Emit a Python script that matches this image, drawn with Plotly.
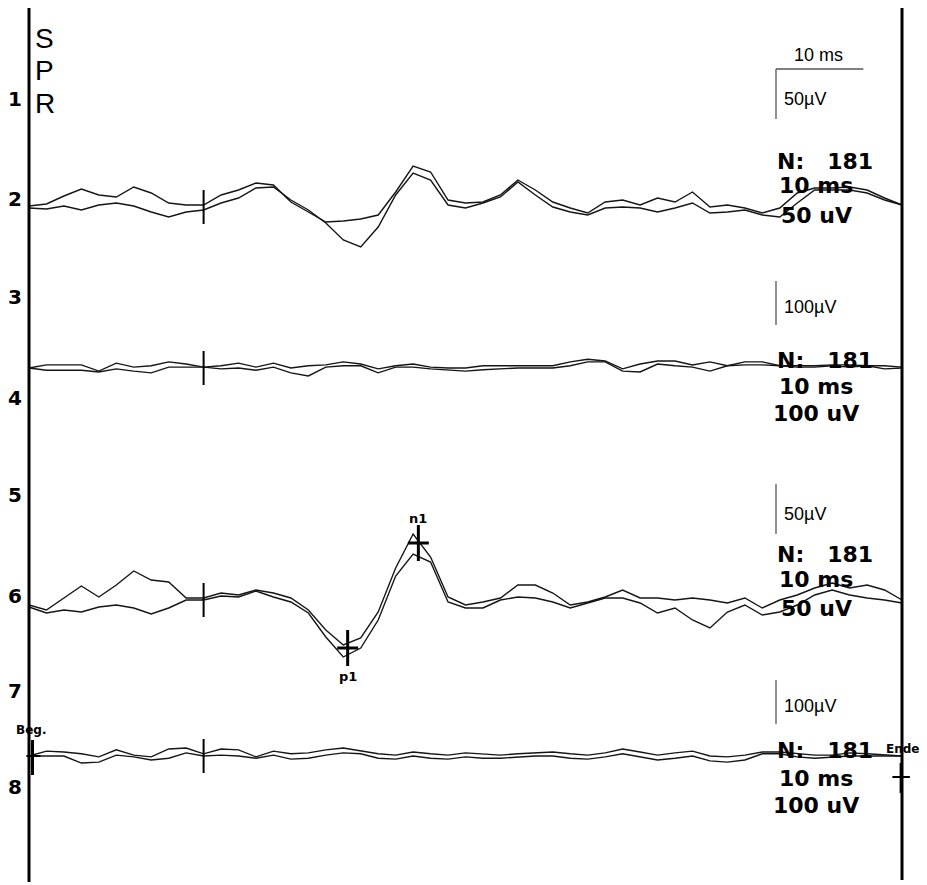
import plotly.graph_objects as go

# ---------------- data ----------------
time_ms = list(range(-20, 81, 2))  # -20 ... 80 ms, 51 samples

# channel 2 (50 uV scale), two superimposed averages, uV (up = positive deflection on screen)
ch2_a = [1, 3, 11, 18, 12, 10, 20, 14, 4, 2,
         2, 12, 17, 24, 22, 5, -5, -15, -14, -12,
         -8, 15, 41, 35, 7, 4, 5, 12, 27, 17,
         5, -1, -6, 5, 7, 2, 9, 5, 15, 0,
         2, -1, -6, -1, 14, 19, 19, 20, 17, 9,
         2]
ch2_b = [-1, -2, 1, -3, 2, 4, 1, -5, -10, -5,
         -3, 4, 9, 19, 20, 7, -3, -16, -33, -40,
         -20, 12, 34, 27, 2, -1, 4, 10, 25, 12,
         0, -5, -8, -1, 0, -1, -5, -1, 4, -6,
         -5, -3, -8, -10, 4, 17, 17, 17, 14, 7,
         2]
# channel 4 (100 uV scale)
ch4_a = [0, 7, 7, 7, -7, 11, 2, 5, 14, 9,
         2, 5, 11, 2, 11, 0, 5, 7, 14, 9,
         -2, 5, 9, 2, 0, 0, 5, 5, 5, 5,
         5, 14, 20, 16, -2, 9, 16, 16, 7, 14,
         5, 14, 14, 5, 5, 5, 7, 7, 5, 5,
         2]
ch4_b = [0, -5, -5, -5, -9, -2, -7, -11, 2, 2,
         2, -2, 0, -5, 2, -11, -18, 2, 5, 5,
         -11, 2, 2, -2, -5, -7, -4, -2, 0, 0,
         0, 5, 14, 14, -7, -9, 9, 5, 2, -7,
         5, 7, 7, 5, 2, 2, 5, 2, 5, -2,
         0]
# channel 6 (50 uV scale)
ch6_a = [-5, -10, 2, 14, 3, 15, 29, 20, 18, 2,
         2, 7, 5, 10, 7, 2, -10, -30, -45, -38,
         -12, 32, 66, 43, 3, -5, -2, 2, 15, 15,
         7, -5, -2, 3, 10, 2, 2, 0, 2, 0,
         -3, 2, -8, 0, 5, 12, 17, 12, 15, 10,
         0]
ch6_b = [-7, -13, -10, -12, -7, -5, -8, -14, -8, 0,
         0, 4, 3, 9, 3, -2, -13, -37, -57, -48,
         -20, 24, 46, 38, -2, -8, -8, 0, 3, 2,
         -2, -8, -3, 2, 2, -3, -13, -8, -20, -28,
         -12, -5, -15, -12, -5, 5, 10, 5, 2, 0,
         -3]
# channel 8 (100 uV scale)
ch8_a = [0, 11, 9, 5, -2, 14, 2, -2, 16, 18,
         5, 16, 14, -2, 11, 5, 7, 14, 18, 11,
         5, 2, 9, 5, 2, 7, 5, 2, 5, 7,
         9, 5, 2, 7, 16, 9, 2, 7, 11, 0,
         -2, 2, 9, 9, 5, 2, 2, 7, 5, 2,
         0]
ch8_b = [0, 0, 0, -16, -14, 2, -2, -9, -5, 7,
         0, 2, 0, -5, 2, -7, -5, 2, 7, 5,
         -5, -7, 0, -5, -7, -2, -5, -5, -2, 0,
         0, -5, -7, -2, 5, -2, -9, -5, 0, -11,
         -14, -9, 5, 5, -2, -5, -2, 0, 0, 0,
         0]

channel_labels = ["1", "2", "3", "4", "5", "6", "7", "8"]
scale_uv = [50, 100, 50, 100]
n_sweeps = 181
time_scale_ms = 10
peak_names = ["p1", "n1"]
peak_latency_ms = [16.5, 24.6]
peak_amp_uv = [-48, 57]
beg_end_ms = [-19.6, 79.9]
beg_end_labels = ["Beg.", "Ende"]

# ---------------- layout ----------------
W, H = 927, 885
PX_PER_MS = 8.73
X0_PX = 29


def px_to_ms(px):
    return -20 + (px - X0_PX) / PX_PER_MS


baselines = [207, 368, 600, 756]       # screen rows of the four displayed traces
gains = [1.0, 0.44, 1.0, 0.44]         # px per uV
bar_tops = [69, 281, 484, 680]
ch_label_y = [99, 199, 297, 398, 495, 596, 691, 787]
text_rows = [(161, 185, 215), (360, 386, 413), (554, 579, 608), (750, 778, 805)]

traces = [(ch2_a, ch2_b), (ch4_a, ch4_b), (ch6_a, ch6_b), (ch8_a, ch8_b)]

LINE = "#151515"
REG = "Liberation Sans"
BOLD = "DejaVu Sans"

fig = go.Figure()
for (a, b), base, g in zip(traces, baselines, gains):
    for arr in (a, b):
        fig.add_trace(go.Scatter(
            x=time_ms, y=[base - g * v for v in arr], mode="lines",
            line=dict(color=LINE, width=1.4), hoverinfo="skip", showlegend=False))

shapes = []
annotations = []


def vline(x, y0, y1, w=2.0, color="black"):
    shapes.append(dict(type="line", xref="x", yref="y", x0=x, x1=x, y0=y0, y1=y1,
                       line=dict(color=color, width=w)))


def hline(x0, x1, y, w=2.0, color="black"):
    shapes.append(dict(type="line", xref="x", yref="y", x0=x0, x1=x1, y0=y, y1=y,
                       line=dict(color=color, width=w)))


def text(x, y, s, size, family=REG, bold=False, xanchor="center"):
    annotations.append(dict(xref="x", yref="y", x=x, y=y, text=s, showarrow=False,
                            xanchor=xanchor, yanchor="middle",
                            font=dict(family=family, size=size, color="black",
                                      weight="bold" if bold else "normal")))


# frame lines
vline(time_ms[0], 8, 882, 3)
vline(time_ms[-1], 8, 880, 3)

# stimulus ticks
for base in baselines:
    vline(0, base - 17, base + 17, 2)

# scale bars
bar_x = px_to_ms(776)
hline(bar_x, bar_x + time_scale_ms, bar_tops[0], 1.3, "#555")
text(px_to_ms(818), 55, f"{time_scale_ms} ms", 18)
for top, uv, g in zip(bar_tops, scale_uv, gains):
    vline(bar_x, top, top + uv * g, 1.3, "#555")
    text(px_to_ms(782), top + uv * g * 0.6, f"{uv}µV", 18, xanchor="left")

# right-side info blocks
for (yn, yt, yu), uv in zip(text_rows, scale_uv):
    text(px_to_ms(775), yn, f"N:\u00a0\u00a0\u00a0{n_sweeps}", 22, BOLD, True, "left")
    text(px_to_ms(816), yt, f"{time_scale_ms} ms", 22, BOLD, True)
    text(px_to_ms(816), yu, f"{uv} uV", 22, BOLD, True)

# channel numbers and SPR
for lab, y in zip(channel_labels, ch_label_y):
    text(px_to_ms(15), y, lab, 20, BOLD, True)
for i, ch in enumerate("SPR"):
    text(px_to_ms(33), 38 + i * 32.5, ch, 28, xanchor="left")

# peak markers on channel 6
base6 = baselines[2]
for name, lat, amp in zip(peak_names, peak_latency_ms, peak_amp_uv):
    yy = base6 - amp
    vline(lat, yy - 18, yy + 18, 3)
    hline(lat - 1.2, lat + 1.2, yy, 3)
    text(lat, yy + 28 if amp < 0 else yy - 25, name, 13, BOLD, True)

# Beg / Ende cursors on channel 8
base8 = baselines[3]
vline(beg_end_ms[0], base8 - 16, base8 + 19, 3)
hline(beg_end_ms[0] - 0.7, beg_end_ms[0] + 0.9, base8, 2)
text(beg_end_ms[0] - 0.2, base8 - 26, beg_end_labels[0], 12, BOLD, True)
vline(beg_end_ms[1], base8 + 7, base8 + 37, 3)
hline(beg_end_ms[1] - 1.0, beg_end_ms[1] + 1.0, base8 + 21, 2)
text(beg_end_ms[1] + 0.2, base8 - 7, beg_end_labels[1], 12, BOLD, True)

fig.update_layout(
    width=W, height=H, margin=dict(l=0, r=0, t=0, b=0),
    paper_bgcolor="white", plot_bgcolor="white",
    xaxis=dict(range=[px_to_ms(0), px_to_ms(W)], visible=False, fixedrange=True),
    yaxis=dict(range=[H, 0], visible=False, fixedrange=True),
    shapes=shapes, annotations=annotations, showlegend=False,
)

fig.write_html("out.html")
